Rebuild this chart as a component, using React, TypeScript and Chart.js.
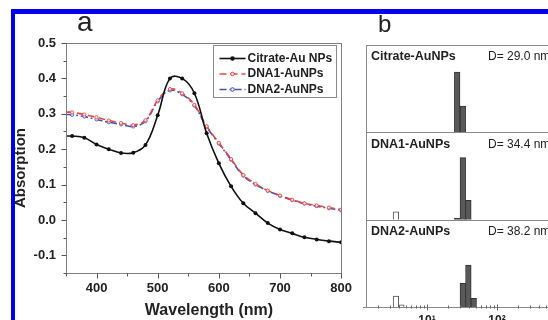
import React, { useEffect, useRef } from "react";
import { Chart, registerables } from "chart.js";

Chart.register(...registerables);

const FONT = "'Liberation Sans', Arial, Helvetica, sans-serif";

// ---------- Panel a : UV-vis spectra ----------
const wavelengths = [350, 360, 380, 400, 420, 440, 460, 480, 500, 520, 540, 560, 580, 600, 620, 640, 660, 680, 700, 720, 740, 760, 780, 800];
const citrateAbs = [0.237, 0.237, 0.232, 0.213, 0.2, 0.189, 0.19, 0.212, 0.296, 0.4, 0.4, 0.358, 0.245, 0.16, 0.095, 0.047, 0.019, -0.009, -0.027, -0.038, -0.049, -0.055, -0.06, -0.063];
const dna1Abs = [0.305, 0.304, 0.298, 0.29, 0.281, 0.274, 0.268, 0.282, 0.338, 0.37, 0.358, 0.325, 0.265, 0.218, 0.172, 0.127, 0.102, 0.083, 0.069, 0.057, 0.047, 0.041, 0.035, 0.029];
const dna2Abs = [0.298, 0.297, 0.292, 0.284, 0.276, 0.27, 0.264, 0.279, 0.335, 0.366, 0.355, 0.323, 0.263, 0.216, 0.17, 0.125, 0.1, 0.082, 0.068, 0.056, 0.046, 0.039, 0.033, 0.027];
const seriesNames = ["Citrate-Au NPs", "DNA1-AuNPs", "DNA2-AuNPs"];
const xMajorTicks = [400, 500, 600, 700, 800];
const xMinorTicks = [350, 450, 550, 650, 750];
const yMajorTicks = [-0.1, 0, 0.1, 0.2, 0.3, 0.4, 0.5];
const yMinorTicks = [-0.15, -0.05, 0.05, 0.15, 0.25, 0.35, 0.45];

// ---------- Panel b : DLS size distributions ----------
const panelNames = ["Citrate-AuNPs", "DNA1-AuNPs", "DNA2-AuNPs"];
const panelDiameters = ["D= 29.0 nm", "D= 34.4 nm", "D= 38.2 nm"];
const citrateSizes = [27.0, 32.5];
const citratePct = [69, 30];
const dna1Sizes = [27.0, 32.5, 39.0];
const dna1Pct = [1.5, 71, 22];
const dna1SmallSizes = [3.6];
const dna1SmallPct = [9];
const dna2Sizes = [32.5, 39.0, 46.5];
const dna2Pct = [27, 48, 10];
const dna2SmallSizes = [3.6, 4.3];
const dna2SmallPct = [12.5, 2.5];
const logMajorTicks = [10, 100, 1000];
const logTickLabels = ["10\u00b9", "10\u00b2", "10\u00b3"];

const pts = (xs: number[], ys: number[]) => xs.map((x, i) => ({ x, y: ys[i] }));

const panelAPlugin = {
  id: "panelA",
  afterDraw(chart: any) {
    const { ctx, chartArea: a, scales } = chart;
    const xs = scales.x;
    const ys = scales.y;
    ctx.save();
    // frame
    ctx.strokeStyle = "#808080";
    ctx.lineWidth = 1;
    ctx.strokeRect(Math.round(a.left) + 0.5, Math.round(a.top) + 0.5, Math.round(a.right - a.left), Math.round(a.bottom - a.top));
    // ticks
    ctx.strokeStyle = "#555";
    ctx.beginPath();
    const B = Math.round(a.bottom) + 0.5;
    const L = Math.round(a.left) + 0.5;
    xMajorTicks.forEach((v) => {
      const p = Math.round(xs.getPixelForValue(v)) + 0.5;
      ctx.moveTo(p, B); ctx.lineTo(p, B + 5);
    });
    xMinorTicks.forEach((v) => {
      const p = Math.round(xs.getPixelForValue(v)) + 0.5;
      ctx.moveTo(p, B); ctx.lineTo(p, B + 3);
    });
    yMajorTicks.forEach((v) => {
      const p = Math.round(ys.getPixelForValue(v)) + 0.5;
      ctx.moveTo(L, p); ctx.lineTo(L - 5, p);
    });
    yMinorTicks.forEach((v) => {
      const p = Math.round(ys.getPixelForValue(v)) + 0.5;
      ctx.moveTo(L, p); ctx.lineTo(L - 3, p);
    });
    ctx.stroke();

    // axis titles
    ctx.fillStyle = "#222";
    ctx.textAlign = "center";
    ctx.textBaseline = "middle";
    ctx.font = `bold 16px ${FONT}`;
    ctx.fillText("Wavelength (nm)", 209, 311);
    ctx.save();
    ctx.translate(21, 168);
    ctx.rotate(-Math.PI / 2);
    ctx.font = `bold 15px ${FONT}`;
    ctx.fillText("Absorption", 0, 0);
    ctx.restore();

    // legend
    const bx = Math.round(a.right) - 128 + 0.5;
    const by = Math.round(a.top) + 2 + 0.5;
    ctx.fillStyle = "#fff";
    ctx.fillRect(bx, by, 123, 52);
    ctx.strokeStyle = "#8a8a8a";
    ctx.strokeRect(bx, by, 123, 52);
    chart.data.datasets.forEach((ds: any, i: number) => {
      const ry = by + 13 + i * 15.5;
      ctx.save();
      ctx.strokeStyle = ds.borderColor;
      ctx.lineWidth = 1.6;
      ctx.setLineDash(ds.borderDash || []);
      ctx.beginPath();
      ctx.moveTo(bx + 6, ry);
      ctx.lineTo(bx + 32, ry);
      ctx.stroke();
      ctx.setLineDash([]);
      ctx.beginPath();
      ctx.arc(bx + 19, ry, i === 0 ? 2.2 : 1.8, 0, Math.PI * 2);
      ctx.fillStyle = ds.pointBackgroundColor;
      ctx.fill();
      if (i > 0) { ctx.lineWidth = 1; ctx.stroke(); }
      ctx.restore();
      ctx.fillStyle = "#222";
      ctx.font = `bold 12px ${FONT}`;
      ctx.textAlign = "left";
      ctx.textBaseline = "middle";
      ctx.fillText(ds.label, bx + 34, ry);
    });
    ctx.restore();
  },
};

const panelBPlugin = {
  id: "panelB",
  afterDraw(chart: any) {
    const { ctx, chartArea: a, scales } = chart;
    const xs = scales.x;
    ctx.save();
    ctx.strokeStyle = "#8a8a8a";
    ctx.lineWidth = 1;
    ctx.beginPath();
    const L = Math.round(a.left) + 0.5;
    const B = Math.round(a.bottom) + 0.5;
    ctx.moveTo(L, a.top); ctx.lineTo(L, B);
    ["y1", "y2", "y3"].forEach((id) => {
      const t = Math.round(scales[id].top) + 0.5;
      ctx.moveTo(a.left, t); ctx.lineTo(a.right, t);
    });
    ctx.moveTo(a.left - 3, B); ctx.lineTo(a.right, B);
    ctx.moveTo(Math.round(a.right) + 0.5, a.top); ctx.lineTo(Math.round(a.right) + 0.5, B);
    ctx.stroke();
    // log ticks
    ctx.strokeStyle = "#666";
    ctx.beginPath();
    for (let k = 0; k < 4; k++) {
      for (let m = 1; m < 10; m++) {
        const v = m * Math.pow(10, k);
        if (v < xs.min || v > xs.max) continue;
        const p = Math.round(xs.getPixelForValue(v)) + 0.5;
        if (m === 1) { ctx.moveTo(p, B - 3); ctx.lineTo(p, B + 3); }
        else { ctx.moveTo(p, B - 2); ctx.lineTo(p, B + 1); }
      }
    }
    ctx.stroke();
    // labels
    ctx.fillStyle = "#222";
    ctx.textBaseline = "middle";
    ctx.textAlign = "left";
    ["y1", "y2", "y3"].forEach((id, i) => {
      const t = scales[id].top;
      ctx.font = `bold 12.5px ${FONT}`;
      ctx.fillText(panelNames[i], a.left + 5, t + 12);
      ctx.font = `12px ${FONT}`;
      ctx.fillText(panelDiameters[i], a.left + 122, t + 12);
    });
    ctx.restore();
  },
};

export default function App() {
  const refA = useRef<HTMLCanvasElement>(null);
  const refB = useRef<HTMLCanvasElement>(null);

  useEffect(() => {
    Chart.defaults.font.family = FONT;
    const chartA = new Chart(refA.current as HTMLCanvasElement, {
      type: "line",
      data: {
        datasets: [
          {
            label: seriesNames[0],
            data: pts(wavelengths, citrateAbs),
            borderColor: "#111",
            backgroundColor: "#111",
            pointBackgroundColor: "#111",
            borderWidth: 1.6,
            pointRadius: (c: any) => (c.dataIndex === 0 ? 0 : 2),
            pointBorderWidth: 0,
            tension: 0.4,
          },
          {
            label: seriesNames[1],
            data: pts(wavelengths, dna1Abs),
            borderColor: "#e8443e",
            backgroundColor: "#e8443e",
            pointBackgroundColor: "#fde3e3",
            pointBorderColor: "#e8443e",
            borderDash: [7, 4],
            borderWidth: 1.6,
            pointRadius: (c: any) => (c.dataIndex === 0 ? 0 : 1.6),
            pointBorderWidth: 0.8,
            tension: 0.4,
          },
          {
            label: seriesNames[2],
            data: pts(wavelengths, dna2Abs),
            borderColor: "#4a4fb2",
            backgroundColor: "#4a4fb2",
            pointBackgroundColor: "#e6e6fa",
            pointBorderColor: "#4a4fb2",
            borderDash: [7, 3, 2, 3],
            borderWidth: 1.6,
            pointRadius: (c: any) => (c.dataIndex === 0 ? 0 : 1.6),
            pointBorderWidth: 0.8,
            tension: 0.4,
          },
        ],
      },
      options: {
        animation: false,
        responsive: false,
        events: [],
        layout: { padding: { left: 0, top: 43, right: 15, bottom: 0 } },
        plugins: { legend: { display: false }, tooltip: { enabled: false } },
        scales: {
          x: {
            type: "linear",
            min: 350,
            max: 800,
            grid: { display: false, drawTicks: false },
            border: { display: false },
            afterBuildTicks: (s: any) => { s.ticks = xMajorTicks.map((v) => ({ value: v })); },
            afterFit: (s: any) => { s.height = 47; },
            ticks: { color: "#222", font: { size: 13, weight: "bold" }, padding: 8, maxRotation: 0, autoSkip: false, callback: (v: any) => String(v) },
          },
          y: {
            type: "linear",
            min: -0.15,
            max: 0.5,
            grid: { display: false, drawTicks: false },
            border: { display: false },
            afterBuildTicks: (s: any) => { s.ticks = yMajorTicks.map((v) => ({ value: v })); },
            afterFit: (s: any) => { s.width = 66; },
            ticks: { color: "#222", font: { size: 13, weight: "bold" }, padding: 10, autoSkip: false, callback: (v: any) => Number(v).toFixed(1) },
          },
        },
      },
      plugins: [panelAPlugin],
    } as any);

    const barStyle = { backgroundColor: "#595959", borderColor: "#333", borderWidth: 1 };
    const hollowStyle = { backgroundColor: "#fff", borderColor: "#555", borderWidth: 1 };
    const chartB = new Chart(refB.current as HTMLCanvasElement, {
      type: "bar",
      data: {
        datasets: [
          { label: panelNames[0], yAxisID: "y1", data: pts(citrateSizes, citratePct), ...barStyle },
          { label: panelNames[1], yAxisID: "y2", data: pts(dna1Sizes, dna1Pct), ...barStyle },
          { label: panelNames[1] + " small", yAxisID: "y2", data: pts(dna1SmallSizes, dna1SmallPct), ...hollowStyle },
          { label: panelNames[2], yAxisID: "y3", data: pts(dna2Sizes, dna2Pct), ...barStyle },
          { label: panelNames[2] + " small", yAxisID: "y3", data: pts(dna2SmallSizes, dna2SmallPct), ...hollowStyle },
        ],
      },
      options: {
        animation: false,
        responsive: false,
        events: [],
        layout: { padding: { left: 26, top: 45, right: 20, bottom: 0 } },
        datasets: { bar: { grouped: false, barThickness: 5.6 } },
        plugins: { legend: { display: false }, tooltip: { enabled: false } },
        scales: {
          x: {
            type: "logarithmic",
            min: Math.pow(10, 1 - 61 / 70),
            max: Math.pow(10, 2 + 123 / 70),
            offset: false,
            grid: { display: false, drawTicks: false },
            border: { display: false },
            afterBuildTicks: (s: any) => { s.ticks = logMajorTicks.map((v) => ({ value: v })); },
            afterFit: (s: any) => { s.height = 38; },
            ticks: {
              color: "#222",
              font: { size: 12, weight: "bold" },
              padding: 6,
              maxRotation: 0,
              autoSkip: false,
              callback: (v: any) => logTickLabels[logMajorTicks.indexOf(Number(v))] ?? "",
            },
          },
          y1: { type: "linear", position: "left", min: 0, max: 100, display: false, stack: "b", stackWeight: 1, weight: 3 },
          y2: { type: "linear", position: "left", min: 0, max: 100, display: false, stack: "b", stackWeight: 1, weight: 2 },
          y3: { type: "linear", position: "left", min: 0, max: 100, display: false, stack: "b", stackWeight: 1, weight: 1 },
        },
      },
      plugins: [panelBPlugin],
    } as any);

    return () => {
      chartA.destroy();
      chartB.destroy();
    };
  }, []);

  return (
    <div style={{ position: "fixed", left: 0, top: 0, width: 548, height: 320, overflow: "hidden", background: "#fff", fontFamily: FONT }}>
      <canvas ref={refA} width={360} height={320} style={{ position: "absolute", left: 0, top: 0, width: 360, height: 320 }} />
      <canvas ref={refB} width={300} height={345} style={{ position: "absolute", left: 340, top: 0, width: 300, height: 345 }} />
      <div style={{ position: "absolute", left: 77, top: 8, fontSize: 28, lineHeight: "28px", color: "#222" }}>a</div>
      <div style={{ position: "absolute", left: 378, top: 12, fontSize: 24, lineHeight: "24px", color: "#222" }}>b</div>
      <div style={{ position: "absolute", left: 11, top: 9, width: 537, height: 5, background: "#0000f0" }} />
      <div style={{ position: "absolute", left: 11, top: 9, width: 4, height: 311, background: "#0000f0" }} />
    </div>
  );
}
